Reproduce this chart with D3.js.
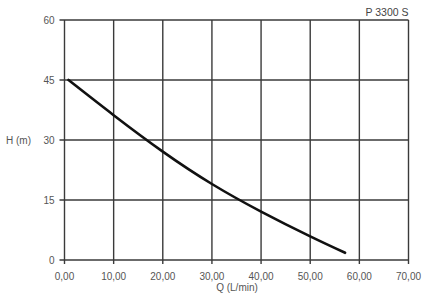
<!DOCTYPE html>
<html>
<head>
<meta charset="utf-8">
<script src="https://cdn.jsdelivr.net/npm/d3@7"></script>
<style>
  body { margin: 0; background: #fff; }
  text { font-family: "Liberation Sans", Arial, sans-serif; }
</style>
</head>
<body>
<script>
const qValues = [0.8, 10, 20, 30, 40, 50, 57.1];
const hValues = [45, 36.2, 27.1, 19, 12.1, 5.9, 1.8];
const xTicks = [0, 10, 20, 30, 40, 50, 60, 70];
const yTicks = [0, 15, 30, 45, 60];
const title = "P 3300 S";

const width = 423, height = 301;
const plotLeft = 64.5, plotRight = 408.5, plotTop = 20, plotBottom = 260;

const svg = d3.select("body").append("svg")
    .attr("width", width)
    .attr("height", height);

const x = d3.scaleLinear().domain([0, 70]).range([plotLeft, plotRight]);
const y = d3.scaleLinear().domain([0, 60]).range([plotBottom, plotTop]);

// grid
const grid = svg.append("g").attr("stroke", "#3a3a3a").attr("stroke-width", 1.4);
grid.selectAll(".v").data(xTicks).join("line")
    .attr("x1", d => x(d)).attr("x2", d => x(d))
    .attr("y1", plotTop).attr("y2", plotBottom + 4);
grid.selectAll(".h").data(yTicks).join("line")
    .attr("x1", plotLeft - 5).attr("x2", plotRight)
    .attr("y1", d => y(d)).attr("y2", d => y(d));

// y labels
svg.append("g").selectAll("text").data(yTicks).join("text")
    .attr("x", plotLeft - 10)
    .attr("y", d => y(d) + 3.5)
    .attr("text-anchor", "end")
    .attr("font-size", 10)
    .attr("fill", "#555")
    .text(d => d);

svg.append("text")
    .attr("x", 6).attr("y", y(30) + 3.5)
    .attr("font-size", 10).attr("fill", "#555")
    .text("H (m)");

// x labels
svg.append("g").selectAll("text").data(xTicks).join("text")
    .attr("x", d => x(d))
    .attr("y", 280)
    .attr("text-anchor", "middle")
    .attr("font-size", 10)
    .attr("fill", "#555")
    .text(d => d3.format(".2f")(d).replace(".", ","));

svg.append("text")
    .attr("x", 237).attr("y", 291)
    .attr("text-anchor", "middle")
    .attr("font-size", 10).attr("fill", "#555")
    .text("Q (L/min)");

svg.append("text")
    .attr("x", plotRight).attr("y", 16)
    .attr("text-anchor", "end")
    .attr("font-size", 10.5).attr("fill", "#444")
    .text(title);

// curve
const pts = qValues.map((q, i) => [q, hValues[i]]);
const line = d3.line()
    .x(d => x(d[0]))
    .y(d => y(d[1]))
    .curve(d3.curveNatural);

svg.append("path")
    .datum(pts)
    .attr("fill", "none")
    .attr("stroke", "#111")
    .attr("stroke-width", 2.6)
    .attr("stroke-linecap", "round")
    .attr("d", line);
</script>
</body>
</html>
